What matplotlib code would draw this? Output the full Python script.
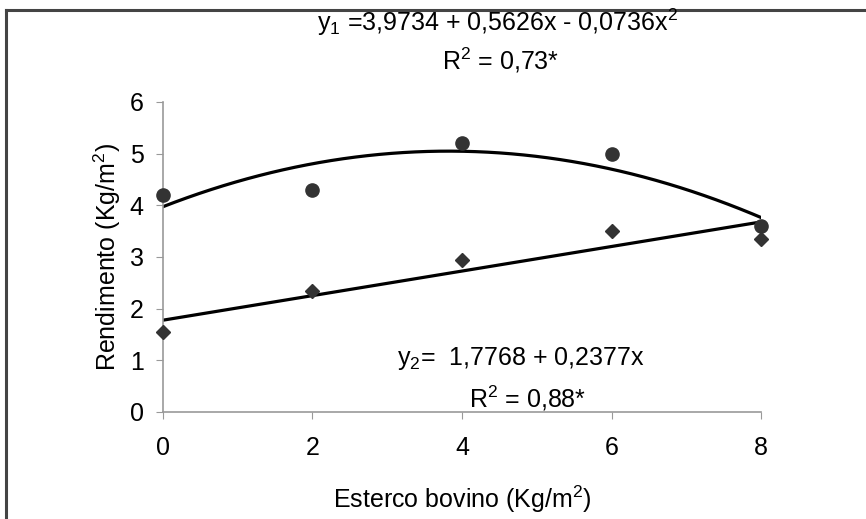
import numpy as np
import matplotlib.pyplot as plt
from matplotlib.lines import Line2D

plt.rcParams['font.family'] = ['Liberation Sans', 'DejaVu Sans']
plt.rcParams['mathtext.default'] = 'regular'

# Data
dose = [0, 2, 4, 6, 8]
y1_obs = [4.2, 4.3, 5.2, 5.0, 3.6]
y2_obs = [1.55, 2.35, 2.95, 3.5, 3.35]

# Trend line coefficients printed on the chart
coef1 = [3.9734, 0.5626, -0.0736]
coef2 = [1.7768, 0.2377]

fig = plt.figure(figsize=(8.66, 5.19), dpi=100)
ax = fig.add_axes([0.1882, 0.2062, 0.6906, 0.5973])

xs = np.linspace(0, 8, 200)
ax.plot(xs, coef1[0] + coef1[1] * xs + coef1[2] * xs ** 2, color='black', lw=2.3, zorder=2)
ax.plot(xs, coef2[0] + coef2[1] * xs, color='black', lw=2.3, zorder=2)

ax.plot(dose, y1_obs, 'o', color='#333333', ms=9.5, clip_on=False, zorder=3)
ax.plot(dose, y2_obs, 'D', color='#333333', ms=7.5, clip_on=False, zorder=3)

ax.set_xlim(0, 8)
ax.set_ylim(0, 6)
ax.set_xticks([0, 2, 4, 6, 8])
ax.set_yticks(range(0, 7))

for s in ['top', 'right']:
    ax.spines[s].set_visible(False)
for s in ['left', 'bottom']:
    ax.spines[s].set_color('#999999')
    ax.spines[s].set_linewidth(1.2)
ax.tick_params(direction='out', length=5, color='#999999', labelsize=18, pad=9)
ax.tick_params(axis='x', pad=12)

ax.set_xlabel('Esterco bovino (Kg/m$^2$)', fontsize=18, labelpad=17)
ax.set_ylabel('Rendimento (Kg/m$^2$)', fontsize=18, labelpad=5)

fig.text(0.575, 0.957, 'y$_1$ =3,9734 + 0,5626x - 0,0736x$^2$', fontsize=18,
         ha='center', va='center')
fig.text(0.578, 0.884, 'R$^2$ = 0,73*', fontsize=18, ha='center', va='center')
fig.text(0.459, 0.310, 'y$_2$=  1,7768 + 0,2377x', fontsize=18, ha='left', va='center')
fig.text(0.609, 0.233, 'R$^2$ = 0,88*', fontsize=18, ha='center', va='center')

# figure border (top and left visible)
fig.add_artist(Line2D([0.0075, 1.0], [0.981, 0.981], transform=fig.transFigure,
                      color='#444444', lw=2.2))
fig.add_artist(Line2D([0.0075, 0.0075], [0.0, 0.981], transform=fig.transFigure,
                      color='#444444', lw=2.2))

fig.savefig('out.png', dpi=100)
